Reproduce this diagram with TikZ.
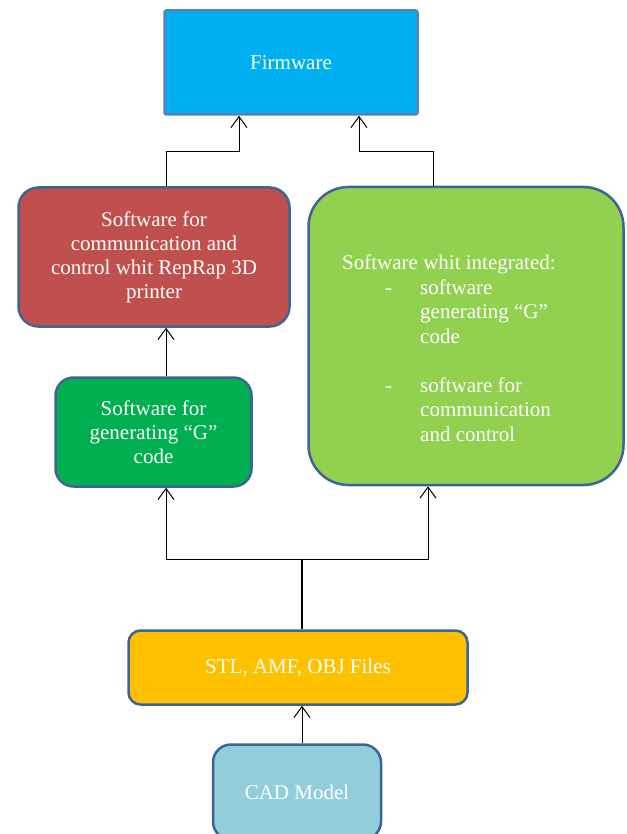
\documentclass[tikz,border=0pt]{standalone}
\usepackage{fontspec}
\setmainfont{Liberation Serif}
\usetikzlibrary{arrows.meta}

\definecolor{firmblue}{RGB}{0,176,240}
\definecolor{firmline}{RGB}{84,130,192}
\definecolor{boxline}{RGB}{62,100,150}
\definecolor{commred}{RGB}{192,80,77}
\definecolor{gcodegreen}{RGB}{0,176,80}
\definecolor{integgreen}{RGB}{146,208,80}
\definecolor{filesorange}{RGB}{255,192,0}
\definecolor{cadblue}{RGB}{146,205,220}

\begin{document}
\begin{tikzpicture}[x=1pt,y=-1pt]

\tikzset{box/.style={draw=boxline, line width=2.5pt, text=white, align=center,
                     font=\fontsize{21}{24}\selectfont, inner sep=0pt}}
\tikzset{link/.style={line width=1pt, -{Straight Barb[length=11pt,width=16pt]}}}
\tikzset{stem/.style={line width=1.8pt}}

\useasboundingbox (0,0) rectangle (626,834);

% x of the vertical connectors
\coordinate (lx)    at (166,0);
\coordinate (rx)    at (428,0);
\coordinate (ix)    at (433,0);
\coordinate (split) at (302,559);
\coordinate (fl)    at (239,152);
\coordinate (fr)    at (359,152);

%boxes
\node[box, draw=firmline, fill=firmblue, rounded corners=2pt,
      minimum width=253pt, minimum height=104pt] (firm) at (291,62.5) {Firmware};

\node[box, fill=commred, rounded corners=20pt,
      minimum width=271pt, minimum height=139pt] (comm) at (154,257)
     {Software for\\ communication and\\ control whit RepRap 3D\\ printer};

\node[box, fill=gcodegreen, rounded corners=18pt,
      minimum width=196pt, minimum height=109pt] (gcode) at (153.5,432)
     {Software for\\ generating “G”\\ code};

\node[box, fill=integgreen, rounded corners=40pt,
      minimum width=315pt, minimum height=298pt] (integ) at (466,336) {};
\node[text=white, align=left, inner sep=0pt, anchor=north west,
      font=\fontsize{21}{24.5}\selectfont] (integtext) at (342,255)
     {Software whit integrated:\\
      \hspace*{43pt}\makebox[35pt][l]{-}software\\
      \hspace*{78pt}generating “G”\\
      \hspace*{78pt}code\\[24.5pt]
      \hspace*{43pt}\makebox[35pt][l]{-}software for\\
      \hspace*{78pt}communication\\
      \hspace*{78pt}and control};

\node[box, fill=filesorange, rounded corners=12pt,
      minimum width=339pt, minimum height=74pt] (files) at (298,667.5)
     {STL, AMF, OBJ Files};

\node[box, fill=cadblue, rounded corners=18pt,
      minimum width=168pt, minimum height=95pt] (cad) at (297,792) {CAD Model};

%connectors
\draw[link] (cad.north -| split) -- (files.south -| split);
\draw[stem] (files.north -| split) -- (split);
\draw[link] (split) -| (gcode.south -| lx);
\draw[link] (split) -| (integ.south -| rx);
\draw[link] (gcode.north -| lx) -- (comm.south -| lx);
\draw[link] (comm.north -| lx) |- (fl) -- (firm.south -| fl);
\draw[link] (integ.north -| ix) |- (fr) -- (firm.south -| fr);

\end{tikzpicture}
\end{document}
